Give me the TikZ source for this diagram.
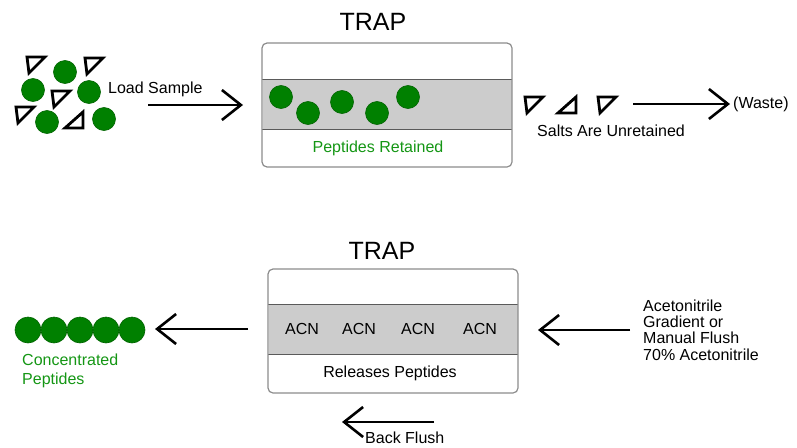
\documentclass[tikz,border=0pt]{standalone}
\usepackage{fontspec}
\setmainfont{Liberation Sans}
\usetikzlibrary{arrows.meta}
\definecolor{pepgreen}{RGB}{0,128,0}
\definecolor{pepedge}{RGB}{0,100,0}
\definecolor{peptext}{RGB}{20,150,20}
\definecolor{bandgray}{RGB}{204,204,204}
\definecolor{boxgray}{RGB}{140,140,140}
\definecolor{bandline}{RGB}{90,90,90}
\tikzset{
  lbl/.style={inner sep=0pt, font=\fontsize{16}{19}\selectfont},
  title/.style={inner sep=0pt, font=\fontsize{25}{30}\selectfont},
  trapbox/.style={draw=boxgray, line width=1.2pt, rounded corners=5pt,
    minimum width=250pt, minimum height=124pt, inner sep=0pt},
  band/.style={fill=bandgray, minimum width=249pt, minimum height=49pt, inner sep=0pt},
  bandedge/.style={draw=bandline, line width=1.3pt},
  flow/.style={line width=2.6pt, -{Straight Barb[length=19pt,width=30pt]}},
  peptide/.style={circle, fill=pepgreen, draw=pepedge, line width=0.6pt,
    minimum size=23pt, inner sep=0pt},
  bigpeptide/.style={peptide, minimum size=26pt},
  salt/.style={draw=black, line width=2.8pt, line join=miter},
  saltdown/.pic={\draw[salt] (-9,-8) -- (9,-8) -- (-7,8) -- cycle;},
  saltup/.pic={\draw[salt] (-9,8) -- (9,8) -- (9,-8) -- cycle;}
}
\begin{document}
\begin{tikzpicture}[x=1pt, y=-1pt]
\useasboundingbox (0,0) rectangle (797,447);

% ---------- loading step ----------
% sample mixture: peptides and salts
\node[peptide] (s1) at (65,72) {};
\node[peptide] (s2) at (33,90) {};
\node[peptide] (s3) at (89,92) {};
\node[peptide] (s4) at (47,122) {};
\node[peptide] (s5) at (104,119) {};
\pic at (36,65) {saltdown};
\pic at (94,66) {saltdown};
\pic at (61,99) {saltdown};
\pic at (25,115) {saltdown};
\pic at (74,120) {saltup};

\node[lbl, anchor=west] (load) at (108,89) {Load Sample};
\coordinate (loadA) at (148,105);
\coordinate (loadB) at (243,105);
\draw[flow] (loadA) -- (loadB);

% trap column during loading
\node[title] (trap1) at (373,22) {TRAP};
\node[band] (band1) at (387,104.5) {};
\draw[bandedge] (band1.north west) -- (band1.north east);
\draw[bandedge] (band1.south west) -- (band1.south east);
\node[trapbox] (box1) at (387,105) {};
\node[peptide] (p1) at (281,97) {};
\node[peptide] (p2) at (308,113) {};
\node[peptide] (p3) at (342,102) {};
\node[peptide] (p4) at (377,113) {};
\node[peptide] (p5) at (408,97) {};
\node[lbl, text=peptext] (ret) at (378,148) {Peptides Retained};

% salts washed to waste
\pic at (534,105) {saltdown};
\pic at (567,105) {saltup};
\pic at (607,105) {saltdown};
\node[lbl] (salts) at (611,131) {Salts Are Unretained};
\coordinate (wasteA) at (633,104);
\coordinate (wasteB) at (730,104);
\draw[flow] (wasteA) -- (wasteB);
\node[lbl, anchor=west] (waste) at (733,104) {(Waste)};

% ---------- elution step ----------
\node[title] (trap2) at (382,251) {TRAP};
\node[band] (band2) at (393,329.5) {};
\draw[bandedge] (band2.north west) -- (band2.north east);
\draw[bandedge] (band2.south west) -- (band2.south east);
\node[trapbox] (box2) at (393,331) {};
\node[lbl] (acn1) at (302,329) {ACN};
\node[lbl] (acn2) at (359,329) {ACN};
\node[lbl] (acn3) at (418,329) {ACN};
\node[lbl] (acn4) at (480,329) {ACN};
\node[lbl] (rel) at (390,373) {Releases Peptides};

% eluent entering from the right
\node[lbl, anchor=west, align=left, font=\fontsize{16}{16.3}\selectfont] (eluent) at (643,330)
  {Acetonitrile\\Gradient or\\Manual Flush\\70\% Acetonitrile};
\coordinate (inA) at (630,330);
\coordinate (inB) at (538,330);
\draw[flow] (inA) -- (inB);

% concentrated peptides leaving on the left
\coordinate (outA) at (248,329);
\coordinate (outB) at (155,329);
\draw[flow] (outA) -- (outB);
\node[bigpeptide] (c1) at (28,330) {};
\node[bigpeptide] (c2) at (54,330) {};
\node[bigpeptide] (c3) at (80,330) {};
\node[bigpeptide] (c4) at (106,330) {};
\node[bigpeptide] (c5) at (132,330) {};
\node[lbl, anchor=west, align=left, text=peptext] (conc) at (22,371)
  {Concentrated\\Peptides};

% back flush direction
\coordinate (bfA) at (434,422);
\coordinate (bfB) at (342,422);
\draw[flow] (bfA) -- (bfB);
\node[lbl, anchor=west] (bf) at (365,437.5) {Back Flush};
\end{tikzpicture}
\end{document}
